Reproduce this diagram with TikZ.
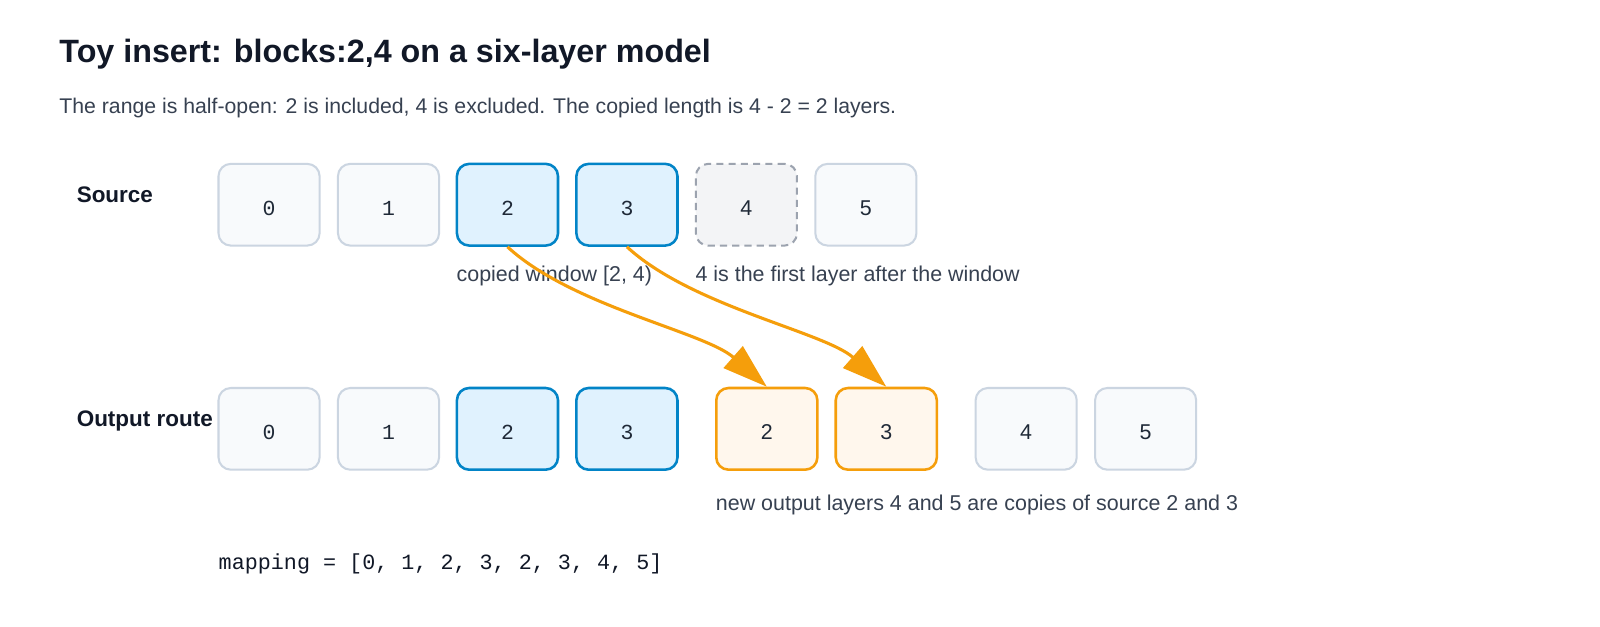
\documentclass[tikz,border=0pt]{standalone}
\usepackage{fontspec}
\setmainfont{Liberation Sans}
\setmonofont{Liberation Mono}
\usetikzlibrary{arrows.meta}
\definecolor{ink}{HTML}{111827}
\definecolor{txt}{HTML}{374151}
\definecolor{numc}{HTML}{1F2937}
\definecolor{grayfill}{HTML}{F8FAFC}
\definecolor{graydraw}{HTML}{CBD5E1}
\definecolor{bluefill}{HTML}{E0F2FE}
\definecolor{bluedraw}{HTML}{0284C7}
\definecolor{dashfill}{HTML}{F3F4F6}
\definecolor{dashdraw}{HTML}{9CA3AF}
\definecolor{orfill}{HTML}{FFF7ED}
\definecolor{ordraw}{HTML}{F59E0B}
\tikzset{
  layer/.style={minimum width=99pt, minimum height=80pt, rounded corners=12pt, inner sep=0pt, text=numc, text height=21pt, text depth=0pt},
  plain/.style={layer, fill=grayfill, draw=graydraw, line width=2pt},
  win/.style={layer, fill=bluefill, draw=bluedraw, line width=2.5pt},
  after/.style={layer, fill=dashfill, draw=dashdraw, line width=2pt, dash pattern=on 7pt off 5pt},
  copyc/.style={layer, fill=orfill, draw=ordraw, line width=2.5pt},
  mono/.style={font=\fontsize{21}{25}\selectfont\ttfamily},
  sans/.style={font=\fontsize{21}{25}\selectfont},
  rowlabel/.style={anchor=west, inner sep=0pt, text=ink, font=\fontsize{22}{26}\selectfont\bfseries},
  note/.style={anchor=west, inner sep=0pt, text=txt, font=\fontsize{21}{25}\selectfont},
  link/.style={draw=ordraw, line width=3pt, -{Triangle[length=44pt, width=28pt]}},
}
\begin{document}
\begin{tikzpicture}[x=1pt,y=-1pt]
\useasboundingbox[fill=white] (0,0) rectangle (1567,613.1);
\node[anchor=west, inner sep=0pt, text=ink, font=\fontsize{31.6}{38}\selectfont\bfseries] (title) at (58,53) {Toy insert: blocks:2,4 on a six-layer model};
\node[anchor=west, inner sep=0pt, text=txt, font=\fontsize{20.8}{25}\selectfont] (sub) at (58,106) {The range is half-open: 2 is included, 4 is excluded. The copied length is 4 - 2 = 2 layers.};

\node[rowlabel] (srclab) at (75,191) {Source};
\node[rowlabel] (outlab) at (75,412) {Output route};

% source row
\node[plain, mono] (s0) at (263.5,200.5) {0};
\node[plain, mono] (s1) at (380.5,200.5) {1};
\node[win, mono]   (s2) at (497,200.5) {2};
\node[win, mono]   (s3) at (614,200.5) {3};
\node[after, sans] (s4) at (731,200.5) {4};
\node[plain, sans] (s5) at (848,200.5) {5};

\node[note] (winlab) at (447,270) {copied window [2, 4)};
\node[note] (aftlab) at (681,270) {4 is the first layer after the window};

% output row
\node[plain, mono] (o0) at (263.5,420) {0};
\node[plain, mono] (o1) at (380.5,420) {1};
\node[win, mono]   (o2) at (497,420) {2};
\node[win, mono]   (o3) at (614,420) {3};
\node[copyc, sans] (o4) at (751,420) {2};
\node[copyc, sans] (o5) at (868,420) {3};
\node[plain, sans] (o6) at (1005,420) {4};
\node[plain, sans] (o7) at (1122,420) {5};

\node[note] (newlab) at (701,495) {new output layers 4 and 5 are copies of source 2 and 3};
\node[anchor=west, inner sep=0pt, text=ink, font=\fontsize{21.3}{25}\selectfont\ttfamily] (map) at (214,552) {mapping = [0, 1, 2, 3, 2, 3, 4, 5]};

\draw[link] (s2.south) .. controls (560,300) and (690,325) .. (o4.north);
\draw[link] (s3.south) .. controls (677,300) and (807,325) .. (o5.north);
\end{tikzpicture}
\end{document}
